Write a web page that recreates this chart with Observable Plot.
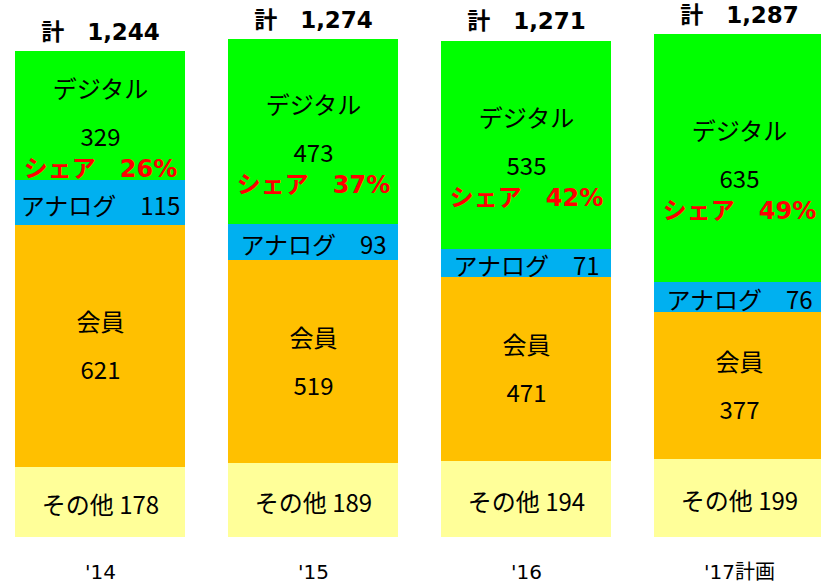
<!DOCTYPE html>
<html>
<head>
<meta charset="utf-8">
<script src="https://cdn.jsdelivr.net/npm/d3@7"></script>
<script src="https://cdn.jsdelivr.net/npm/@observablehq/plot@0.6"></script>
<style>
  html, body { margin: 0; padding: 0; background: #fff; overflow: hidden; }
</style>
</head>
<body>
<script>
const years   = ["'14", "'15", "'16", "'17計画"];
const other   = [178, 189, 194, 199];
const member  = [621, 519, 471, 377];
const analog  = [115, 93, 71, 76];
const digital = [329, 473, 535, 635];
const totals  = [1244, 1274, 1271, 1287];
const shares  = [26, 37, 42, 49];

const segNames  = ["その他", "会員", "アナログ", "デジタル"];
const segColors = ["#FFFF99", "#FFC000", "#00B0F0", "#00FF00"];
const series = [other, member, analog, digital];

const rows = [];
years.forEach((yr, i) => {
  series.forEach((s, k) => rows.push({year: yr, seg: segNames[k], value: s[i]}));
});

// segment midpoints derived from the data
const labels = [];
years.forEach((yr, i) => {
  let base = 0;
  const mids = series.map(s => { const m = base + s[i] / 2; base += s[i]; return m; });
  labels.push({year: yr, y: mids[0], text: `その他 ${other[i]}`, dy: 4, kind: "n"});
  labels.push({year: yr, y: mids[1], text: "会員", dy: -23, kind: "n"});
  labels.push({year: yr, y: mids[1], text: `${member[i]}`, dy: 25, kind: "n"});
  labels.push({year: yr, y: mids[2], text: `アナログ\u3000${analog[i]}`, dy: 4, kind: "n"});
  labels.push({year: yr, y: mids[3], text: "デジタル", dy: -26, kind: "n"});
  labels.push({year: yr, y: mids[3], text: `${digital[i]}`, dy: 22, kind: "n"});
  labels.push({year: yr, y: mids[3], text: `シェア\u3000${shares[i]}%`, dy: 53, kind: "s"});
});
const totalRows = years.map((yr, i) => ({year: yr, total: totals[i]}));

const CJK = "'Noto Sans CJK JP', sans-serif";
const BOLD = "DejaVu Sans, 'Noto Sans CJK JP', sans-serif";

const normal = labels.filter(d => d.kind === "n");
const share = labels.filter(d => d.kind === "s");
const dyGroups = d3.groups(normal, d => d.dy);

const chart = Plot.plot({
  width: 821,
  height: 584,
  marginTop: 34.3,
  marginBottom: 47.3,
  marginLeft: 0,
  marginRight: 0,
  style: {background: "#fff", fontFamily: CJK, overflow: "hidden"},
  x: {domain: years, range: [14, 825], paddingInner: 0.2, paddingOuter: 0, label: null, axis: null},
  y: {domain: [0, 1287], axis: null},
  color: {domain: segNames, range: segColors},
  marks: [
    Plot.barY(rows, Plot.stackY({x: "year", y: "value", fill: "seg", order: segNames, shapeRendering: "crispEdges"})),
    ...dyGroups.map(([dy, arr]) => Plot.text(arr, {
      x: "year", y: "y", text: "text", dy, fontSize: 24, fill: "#000", fontFamily: CJK, lineAnchor: "middle"
    })),
    Plot.text(share, {x: "year", y: "y", text: "text", dy: 53, fontSize: 24, fontWeight: "bold", fill: "#FF0000", fontFamily: BOLD, lineAnchor: "middle"}),
    Plot.text(totalRows, {x: "year", y: "total", text: d => `計\u3000${d3.format(",")(d.total)}`, dy: -19, fontSize: 23, fontWeight: "bold", fill: "#000", fontFamily: BOLD, lineAnchor: "middle"}),
    Plot.text(years, {x: d => d, y: () => 0, text: d => d, dy: 35, fontSize: 20, fill: "#000", fontFamily: "DejaVu Sans, 'Noto Sans CJK JP', sans-serif", lineAnchor: "middle"})
  ]
});
document.body.appendChild(chart);
</script>
</body>
</html>
